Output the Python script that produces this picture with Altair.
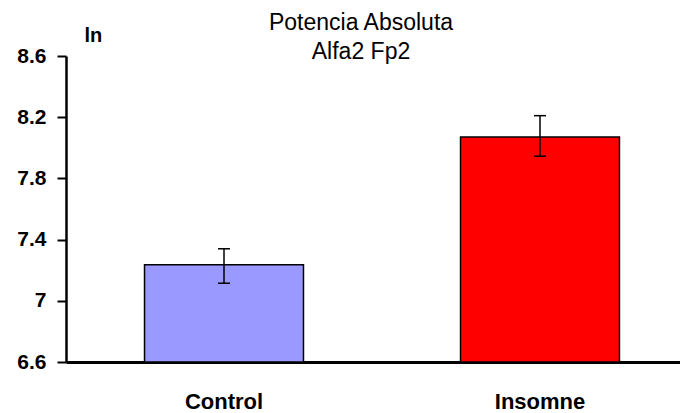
import altair as alt
import pandas as pd

categories = ["Control", "Insomne"]
means = [7.235, 8.07]
err_low = [7.115, 7.945]
err_high = [7.34, 8.21]
colors = ["#9999FF", "#FF0000"]
y_ticks = [6.6, 7.0, 7.4, 7.8, 8.2, 8.6]
title_lines = ["Potencia Absoluta", "Alfa2 Fp2"]
y_title = "ln"

df = pd.DataFrame({"cat": categories, "mean": means, "lo": err_low, "hi": err_high})

FONT = "Liberation Sans"

x_axis = alt.Axis(title=None, labelAngle=0, ticks=False, labelFontSize=22, labelFontWeight="bold",
                  labelPadding=29, domainWidth=3, domainColor="black", labelColor="black",
                  labelFont=FONT)
x_scale = alt.Scale(domain=categories, range=[0, 632], paddingInner=0.497, paddingOuter=0.2485)
y_scale = alt.Scale(domain=[6.6, 8.6], nice=False, zero=False)
y_axis = alt.Axis(values=y_ticks, labelExpr="datum.value + ''", title=y_title, titleAngle=0,
                  titleFont=FONT, titleFontSize=20, titleFontWeight="bold", titleColor="black",
                  titleX=18, titleY=-15, titleAlign="left", titleBaseline="alphabetic",
                  labelFont=FONT, labelFontSize=21, labelFontWeight="bold", labelColor="black",
                  labelPadding=11, tickSize=9, tickWidth=2, tickColor="black",
                  domainWidth=2.5, domainColor="black", grid=False)

X = alt.X("cat:N", sort=categories, scale=x_scale, axis=x_axis)

bars = alt.Chart(df).mark_bar(stroke="black", strokeWidth=1.5).encode(
    x=X,
    y=alt.Y("mean:Q", scale=y_scale, axis=y_axis),
    y2=alt.datum(6.6),
    color=alt.Color("cat:N", scale=alt.Scale(domain=categories, range=colors), legend=None),
)

rules = alt.Chart(df).mark_rule(color="black", strokeWidth=1.5).encode(
    x=X,
    y=alt.Y("lo:Q", scale=y_scale, axis=y_axis),
    y2="hi:Q",
)

cap_lo = alt.Chart(df).mark_tick(color="black", size=12, thickness=1.5, opacity=1).encode(
    x=X, y=alt.Y("lo:Q", scale=y_scale, axis=y_axis)
)
cap_hi = alt.Chart(df).mark_tick(color="black", size=12, thickness=1.5, opacity=1).encode(
    x=X, y=alt.Y("hi:Q", scale=y_scale, axis=y_axis)
)

chart = alt.layer(bars, rules, cap_lo, cap_hi).properties(
    width=614,
    height=306,
    background="white",
    title=alt.TitleParams(title_lines, font=FONT, fontSize=23, fontWeight="normal", color="black",
                          anchor="middle", dx=-12, lineHeight=29, offset=-39),
    autosize=alt.AutoSizeParams(type="none"),
    padding={"left": 58, "top": 48, "right": 0, "bottom": 50},
).configure_view(stroke=None)

chart.save("out.html", embed_options={"renderer": "svg", "actions": False})
